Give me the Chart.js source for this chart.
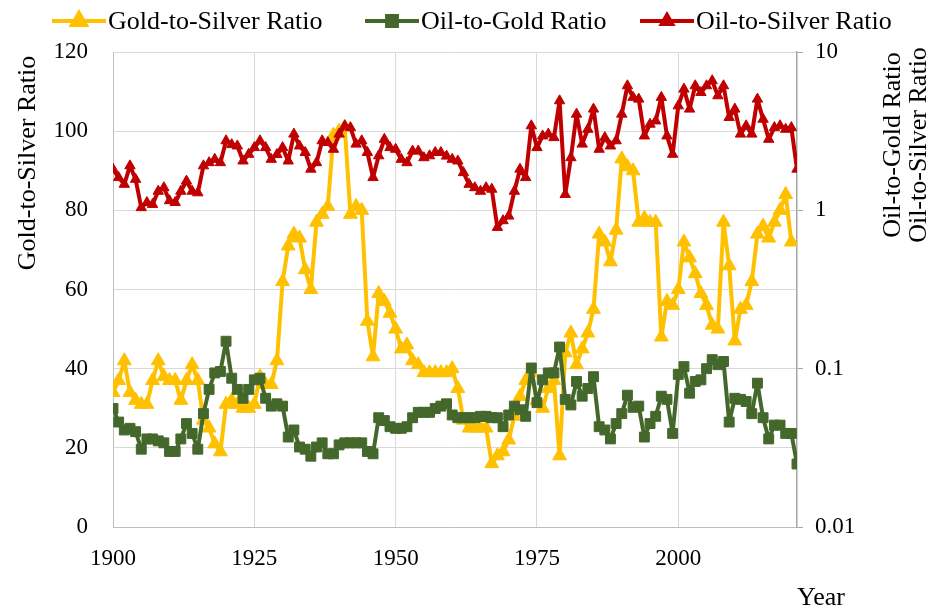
<!DOCTYPE html>
<html>
<head>
<meta charset="utf-8">
<script src="https://cdn.jsdelivr.net/npm/chart.js@4.4.1/dist/chart.umd.min.js"></script>
<style>
  body { margin: 0; background: #fff; }
  #wrap { width: 934px; height: 610px; }
</style>
</head>
<body>
<div id="wrap"><canvas id="ratioChart"></canvas></div>
<script>
const years = [
  1900, 1901, 1902, 1903, 1904, 1905, 1906, 1907, 1908, 1909,
  1910, 1911, 1912, 1913, 1914, 1915, 1916, 1917, 1918, 1919,
  1920, 1921, 1922, 1923, 1924, 1925, 1926, 1927, 1928, 1929,
  1930, 1931, 1932, 1933, 1934, 1935, 1936, 1937, 1938, 1939,
  1940, 1941, 1942, 1943, 1944, 1945, 1946, 1947, 1948, 1949,
  1950, 1951, 1952, 1953, 1954, 1955, 1956, 1957, 1958, 1959,
  1960, 1961, 1962, 1963, 1964, 1965, 1966, 1967, 1968, 1969,
  1970, 1971, 1972, 1973, 1974, 1975, 1976, 1977, 1978, 1979,
  1980, 1981, 1982, 1983, 1984, 1985, 1986, 1987, 1988, 1989,
  1990, 1991, 1992, 1993, 1994, 1995, 1996, 1997, 1998, 1999,
  2000, 2001, 2002, 2003, 2004, 2005, 2006, 2007, 2008, 2009,
  2010, 2011, 2012, 2013, 2014, 2015, 2016, 2017, 2018, 2019,
  2020, 2021
];

// left axis
const goldToSilver = [
  34, 37, 42, 34, 32, 31, 31, 37, 42, 38,
  37, 37, 32, 37, 41, 37, 27, 25, 21, 19,
  31, 32, 31, 30, 30, 31, 38, 36, 36, 42,
  62, 71, 74, 73, 65, 60, 77, 79, 81, 99,
  100, 101, 79, 81, 80, 52, 43, 59, 57, 54,
  50, 45, 46, 42, 41, 39, 39, 39, 39, 39,
  40, 35, 27, 25, 25, 25, 25, 16, 18, 19,
  22, 28, 33, 37, 39, 32, 30, 35, 37, 18,
  44, 49, 41, 45, 49, 55, 74, 72, 67, 75,
  93, 91, 90, 77, 78, 77, 77, 48, 57, 56,
  60, 72, 68, 64, 59, 56, 51, 50, 77, 66,
  47, 55, 56, 62, 74, 76, 73, 77, 80, 84,
  72, null
];

// right axis (log)
const oilToGold = [
  0.056, 0.046, 0.041, 0.042, 0.040, 0.031, 0.036, 0.036, 0.035, 0.034,
  0.030, 0.030, 0.036, 0.045, 0.039, 0.031, 0.052, 0.074, 0.094, 0.096,
  0.149, 0.087, 0.074, 0.065, 0.074, 0.085, 0.087, 0.065, 0.058, 0.060,
  0.058, 0.037, 0.041, 0.032, 0.031, 0.028, 0.032, 0.034, 0.029, 0.029,
  0.033, 0.034, 0.034, 0.034, 0.034, 0.030, 0.029, 0.049, 0.047, 0.043,
  0.042, 0.042, 0.043, 0.049, 0.053, 0.053, 0.053, 0.056, 0.058, 0.060,
  0.051, 0.049, 0.049, 0.049, 0.049, 0.050, 0.050, 0.049, 0.049, 0.043,
  0.051, 0.058, 0.055, 0.050, 0.101, 0.061, 0.085, 0.094, 0.094, 0.137,
  0.064, 0.059, 0.083, 0.067, 0.075, 0.089, 0.043, 0.041, 0.036, 0.045,
  0.052, 0.068, 0.057, 0.058, 0.037, 0.045, 0.050, 0.067, 0.064, 0.039,
  0.092, 0.103, 0.070, 0.083, 0.085, 0.100, 0.114, 0.106, 0.111, 0.046,
  0.065, 0.064, 0.062, 0.052, 0.081, 0.049, 0.036, 0.044, 0.044, 0.039,
  0.039, 0.025
];

const oilToSilver = [
  1.82, 1.61, 1.46, 1.91, 1.57, 1.04, 1.12, 1.09, 1.32, 1.39,
  1.15, 1.12, 1.32, 1.53, 1.32, 1.29, 1.91, 2.00, 2.10, 2.00,
  2.75, 2.60, 2.55, 2.05, 2.26, 2.49, 2.75, 2.49, 2.10, 2.25,
  2.49, 2.05, 3.03, 2.55, 2.32, 1.82, 2.00, 2.75, 2.68, 2.43,
  3.03, 3.42, 3.33, 2.62, 2.75, 2.32, 1.61, 2.21, 2.81, 2.49,
  2.43, 2.10, 2.00, 2.37, 2.37, 2.15, 2.21, 2.32, 2.32, 2.20,
  2.10, 2.05, 1.73, 1.46, 1.39, 1.32, 1.39, 1.36, 0.78, 0.86,
  0.92, 1.32, 1.82, 1.61, 3.42, 2.49, 2.95, 3.03, 2.88, 4.92,
  1.26, 2.15, 4.05, 2.62, 3.25, 4.36, 2.43, 2.88, 2.55, 2.75,
  4.05, 6.12, 5.17, 5.04, 2.95, 3.50, 3.67, 5.17, 2.95, 2.26,
  4.57, 5.83, 4.36, 6.12, 5.55, 6.12, 6.59, 5.29, 6.12, 3.86,
  4.36, 3.03, 3.42, 3.03, 5.04, 3.76, 2.81, 3.33, 3.42, 3.25,
  3.33, 1.82
];

const xTicks = [1900, 1925, 1950, 1975, 2000];
const leftTicks = [0, 20, 40, 60, 80, 100, 120];
const rightTicks = [0.01, 0.1, 1, 10];

const FONT = "'Liberation Serif', 'Times New Roman', serif";
const YELLOW = '#FFC000';
const GREEN = '#44682B';
const RED = '#C00000';

function toPoints(vals) {
  return years.map((yr, i) => ({ x: yr, y: vals[i] }));
}

// axis titles and the legend in the Excel layout
const decorations = {
  id: 'decorations',
  afterDraw(chart) {
    const ctx = chart.ctx;
    ctx.save();
    ctx.fillStyle = '#000';
    ctx.font = '26px ' + FONT;
    ctx.textAlign = 'center';
    ctx.textBaseline = 'middle';

    ctx.save();
    ctx.translate(28, 163);
    ctx.rotate(-Math.PI / 2);
    ctx.fillText('Gold-to-Silver Ratio', 0, 0);
    ctx.restore();

    ctx.save();
    ctx.translate(893, 145);
    ctx.rotate(-Math.PI / 2);
    ctx.fillText('Oil-to-Gold Ratio', 0, 0);
    ctx.restore();

    ctx.save();
    ctx.translate(919, 145);
    ctx.rotate(-Math.PI / 2);
    ctx.fillText('Oil-to-Silver Ratio', 0, 0);
    ctx.restore();

    ctx.fillText('Year', 821, 598);

    // legend
    const items = [
      { label: 'Gold-to-Silver Ratio', color: YELLOW, style: 'triangle', r: 8, x: 52 },
      { label: 'Oil-to-Gold Ratio', color: GREEN, style: 'rect', r: 7, x: 365 },
      { label: 'Oil-to-Silver Ratio', color: RED, style: 'triangle', r: 6, x: 640 }
    ];
    const ly = 21;
    items.forEach(it => {
      ctx.strokeStyle = it.color;
      ctx.lineWidth = 4;
      ctx.beginPath();
      ctx.moveTo(it.x, ly);
      ctx.lineTo(it.x + 54, ly);
      ctx.stroke();
      ctx.fillStyle = it.color;
      Chart.helpers.drawPoint(ctx, { pointStyle: it.style, radius: it.r, borderWidth: 1 }, it.x + 27, ly);
      ctx.fill();
      ctx.fillStyle = '#000';
      ctx.textAlign = 'left';
      ctx.fillText(it.label, it.x + 56, ly + 1);
    });
    ctx.restore();
  }
};

function series(label, vals, color, style, radius, axis, order) {
  return {
    label: label,
    data: toPoints(vals),
    yAxisID: axis,
    borderColor: color,
    backgroundColor: color,
    pointBackgroundColor: color,
    pointBorderColor: color,
    pointBorderWidth: 1,
    pointStyle: style,
    pointRadius: radius,
    borderWidth: 4,
    borderJoinStyle: 'round',
    borderCapStyle: 'round',
    tension: 0,
    spanGaps: false,
    order: order
  };
}

new Chart(document.getElementById('ratioChart'), {
  type: 'line',
  data: {
    datasets: [
      series('Gold-to-Silver Ratio', goldToSilver, YELLOW, 'triangle', 8, 'y', 3),
      series('Oil-to-Gold Ratio', oilToGold, GREEN, 'rect', 7, 'y1', 2),
      series('Oil-to-Silver Ratio', oilToSilver, RED, 'triangle', 6, 'y1', 1)
    ]
  },
  options: {
    responsive: true,
    maintainAspectRatio: false,
    animation: false,
    layout: { padding: { top: 52, left: 0, right: 0, bottom: 0 } },
    plugins: {
      legend: { display: false },
      tooltip: { enabled: false }
    },
    scales: {
      x: {
        type: 'linear',
        min: 1900,
        max: 2021,
        afterBuildTicks: s => { s.ticks = xTicks.map(v => ({ value: v })); },
        afterFit: s => { s.height = 83; },
        ticks: {
          font: { family: FONT, size: 23 },
          color: '#000',
          padding: 18,
          maxRotation: 0,
          callback: v => String(v)
        },
        grid: { color: '#D9D9D9', lineWidth: 1, drawTicks: false },
        border: { color: '#BFBFBF', width: 1 }
      },
      y: {
        position: 'left',
        min: 0,
        max: 120,
        afterBuildTicks: s => { s.ticks = leftTicks.map(v => ({ value: v })); },
        afterFit: s => { s.width = 113; },
        ticks: { font: { family: FONT, size: 23 }, color: '#000', padding: 25 },
        grid: { color: '#D9D9D9', lineWidth: 1, drawTicks: false },
        border: { color: '#BFBFBF', width: 1 }
      },
      y1: {
        type: 'logarithmic',
        position: 'right',
        min: 0.01,
        max: 10,
        afterBuildTicks: s => { s.ticks = rightTicks.map(v => ({ value: v })); },
        afterFit: s => { s.width = 137; },
        ticks: {
          font: { family: FONT, size: 23 },
          color: '#000',
          padding: 12,
          callback: v => String(v)
        },
        grid: { drawOnChartArea: false, drawTicks: true, tickLength: 6, color: '#A6A6A6' },
        border: { color: '#A6A6A6', width: 1.5 }
      }
    }
  },
  plugins: [decorations]
});
</script>
</body>
</html>
